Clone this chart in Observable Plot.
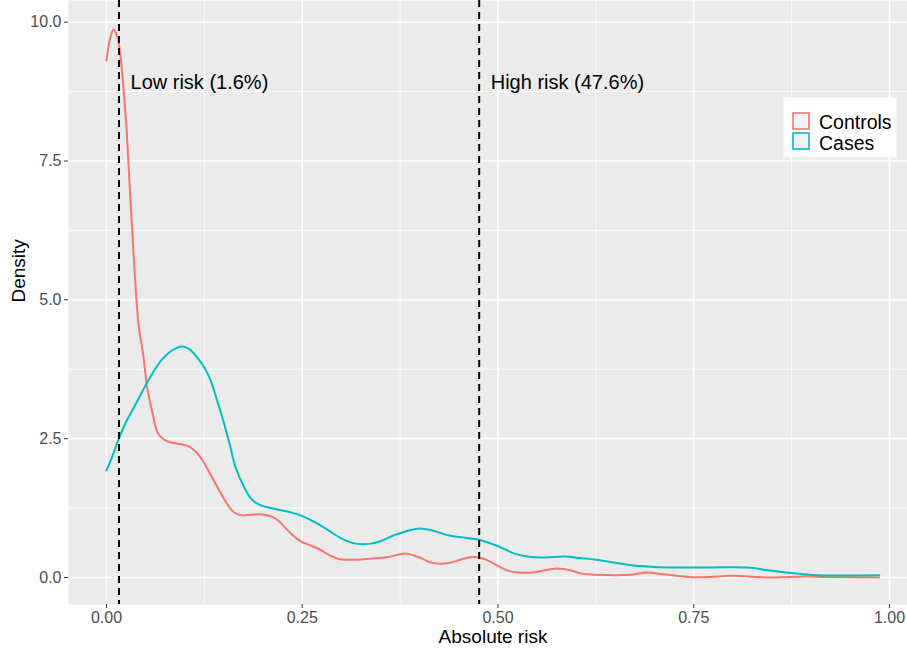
<!DOCTYPE html>
<html>
<head>
<meta charset="utf-8">
<script src="https://cdn.jsdelivr.net/npm/d3@7"></script>
<script src="https://cdn.jsdelivr.net/npm/@observablehq/plot@0.6"></script>
<style>
  html, body { margin: 0; padding: 0; background: white; }
  #chart { width: 907px; height: 649px; }
</style>
</head>
<body>
<div id="chart"></div>
<script>
// ---- data ----
const seriesNames = ["Controls", "Cases"];
const seriesColors = ["#F8766D", "#00BFC4"];

const xTicks = [0, 0.25, 0.5, 0.75, 1];
const xMinor = [0.125, 0.375, 0.625, 0.875];
const yTicks = [0, 2.5, 5, 7.5, 10];
const yMinor = [1.25, 3.75, 6.25, 8.75];

const cutoffs = [0.016, 0.476];
const cutoffLabels = ["Low risk (1.6%)", "High risk (47.6%)"];
const cutoffLabelY = 8.92;

// [absolute risk, density]
const controlsCurve = [
  [0, 9.31], [0.004, 9.67], [0.009, 9.87], [0.014, 9.73], [0.018, 9.37],
  [0.022, 8.77], [0.026, 7.99], [0.031, 6.7], [0.036, 5.5], [0.041, 4.55],
  [0.047, 4.0], [0.052, 3.42], [0.059, 2.95], [0.066, 2.59], [0.078, 2.45],
  [0.091, 2.41], [0.105, 2.36], [0.115, 2.25], [0.124, 2.08], [0.133, 1.85],
  [0.142, 1.62], [0.153, 1.35], [0.163, 1.17], [0.172, 1.12], [0.185, 1.13],
  [0.197, 1.14], [0.21, 1.10], [0.219, 1.03], [0.228, 0.9], [0.236, 0.79],
  [0.248, 0.65], [0.262, 0.57], [0.273, 0.50], [0.285, 0.40], [0.298, 0.33],
  [0.32, 0.32], [0.338, 0.34], [0.36, 0.37], [0.383, 0.43], [0.40, 0.36],
  [0.412, 0.28], [0.423, 0.25], [0.437, 0.26], [0.452, 0.32], [0.467, 0.37],
  [0.478, 0.35], [0.488, 0.30], [0.50, 0.21], [0.513, 0.12], [0.526, 0.09],
  [0.545, 0.09], [0.56, 0.13], [0.576, 0.16], [0.592, 0.13], [0.607, 0.07],
  [0.625, 0.05], [0.67, 0.05], [0.69, 0.09], [0.71, 0.06], [0.744, 0.01],
  [0.77, 0.01], [0.795, 0.03], [0.82, 0.02], [0.845, 0.0], [0.87, 0.01],
  [0.893, 0.02], [0.92, 0.01], [0.987, 0.0]
];

const casesCurve = [
  [0, 1.93], [0.008, 2.2], [0.015, 2.47], [0.025, 2.8], [0.035, 3.06],
  [0.044, 3.3], [0.052, 3.51], [0.062, 3.75], [0.073, 3.96], [0.085, 4.1],
  [0.097, 4.16], [0.107, 4.1], [0.116, 3.96], [0.125, 3.78], [0.133, 3.55],
  [0.141, 3.2], [0.149, 2.83], [0.157, 2.42], [0.165, 1.98], [0.176, 1.62],
  [0.186, 1.40], [0.197, 1.30], [0.21, 1.25], [0.223, 1.21], [0.236, 1.17],
  [0.248, 1.12], [0.263, 1.02], [0.278, 0.90], [0.298, 0.72], [0.318, 0.61],
  [0.338, 0.61], [0.353, 0.67], [0.367, 0.76], [0.382, 0.83], [0.397, 0.88],
  [0.412, 0.86], [0.425, 0.81], [0.436, 0.76], [0.455, 0.72], [0.476, 0.68],
  [0.487, 0.63], [0.497, 0.58], [0.51, 0.50], [0.521, 0.43], [0.537, 0.38],
  [0.556, 0.36], [0.585, 0.38], [0.605, 0.35], [0.625, 0.32], [0.648, 0.27],
  [0.67, 0.22], [0.70, 0.19], [0.725, 0.18], [0.77, 0.18], [0.818, 0.18],
  [0.845, 0.13], [0.868, 0.09], [0.89, 0.06], [0.908, 0.04], [0.987, 0.04]
];

const xTitle = "Absolute risk";
const yTitle = "Density";

// ---- chart ----
const font = "'Liberation Sans', Arial, Helvetica, sans-serif";

const chart = Plot.plot({
  width: 907,
  height: 649,
  marginLeft: 68,
  marginRight: 0,
  marginTop: 0,
  marginBottom: 45,
  x: { domain: [-0.0485, 1.023] },
  y: { domain: [-0.486, 10.39] },
  style: { fontFamily: font, fontSize: "16px", background: "white", overflow: "visible" },
  marks: [
    Plot.frame({ fill: "#EBEBEB", stroke: null }),
    Plot.ruleX(xMinor, { stroke: "white", strokeWidth: 0.8 }),
    Plot.ruleY(yMinor, { stroke: "white", strokeWidth: 0.8 }),
    Plot.ruleX(xTicks, { stroke: "white", strokeWidth: 1.6 }),
    Plot.ruleY(yTicks, { stroke: "white", strokeWidth: 1.6 }),
    Plot.line(controlsCurve, { x: d => d[0], y: d => d[1], stroke: seriesColors[0], strokeWidth: 2, curve: "catmull-rom" }),
    Plot.line(casesCurve, { x: d => d[0], y: d => d[1], stroke: seriesColors[1], strokeWidth: 2, curve: "catmull-rom" }),
    Plot.ruleX(cutoffs, { stroke: "black", strokeWidth: 2, strokeDasharray: "7,5" }),
    Plot.text(cutoffs, {
      x: d => d, y: () => cutoffLabelY, text: (d, i) => cutoffLabels[i],
      textAnchor: "start", dx: 11.5, fontSize: 20, fill: "black"
    }),
    Plot.axisX({ ticks: xTicks, tickFormat: d => d.toFixed(2), tickSize: 4, tickPadding: 3, label: null, fill: "#4D4D4D", stroke: "#333333", fontSize: 16 }),
    Plot.axisY({ ticks: yTicks, tickFormat: d => d.toFixed(1), tickSize: 4, tickPadding: 3, label: null, fill: "#4D4D4D", stroke: "#333333", fontSize: 16 }),
    Plot.text([xTitle], { text: d => d, frameAnchor: "bottom", dy: 38, dx: 5, fontSize: 19, fill: "black" }),
    Plot.text([yTitle], { text: d => d, frameAnchor: "left", dx: -50, rotate: -90, fontSize: 19, fill: "black" })
  ]
});

document.getElementById("chart").appendChild(chart);

// ---- legend (inside panel, top right) ----
const svg = d3.select(chart);
const lg = svg.append("g").attr("font-family", font).attr("text-anchor", "start");
lg.append("rect").attr("x", 783.5).attr("y", 97.5).attr("width", 113).attr("height", 60).attr("fill", "white");
seriesNames.forEach((name, i) => {
  lg.append("rect")
    .attr("x", 793).attr("y", 113 + 20 * i).attr("width", 16).attr("height", 16)
    .attr("fill", "#F2F2F2").attr("stroke", seriesColors[i]).attr("stroke-width", 1.6);
  lg.append("text")
    .attr("x", 819).attr("y", 129 + 20.5 * i)
    .attr("font-size", 19.5).attr("fill", "black")
    .attr("text-anchor", "start")
    .text(name);
});
</script>
</body>
</html>
